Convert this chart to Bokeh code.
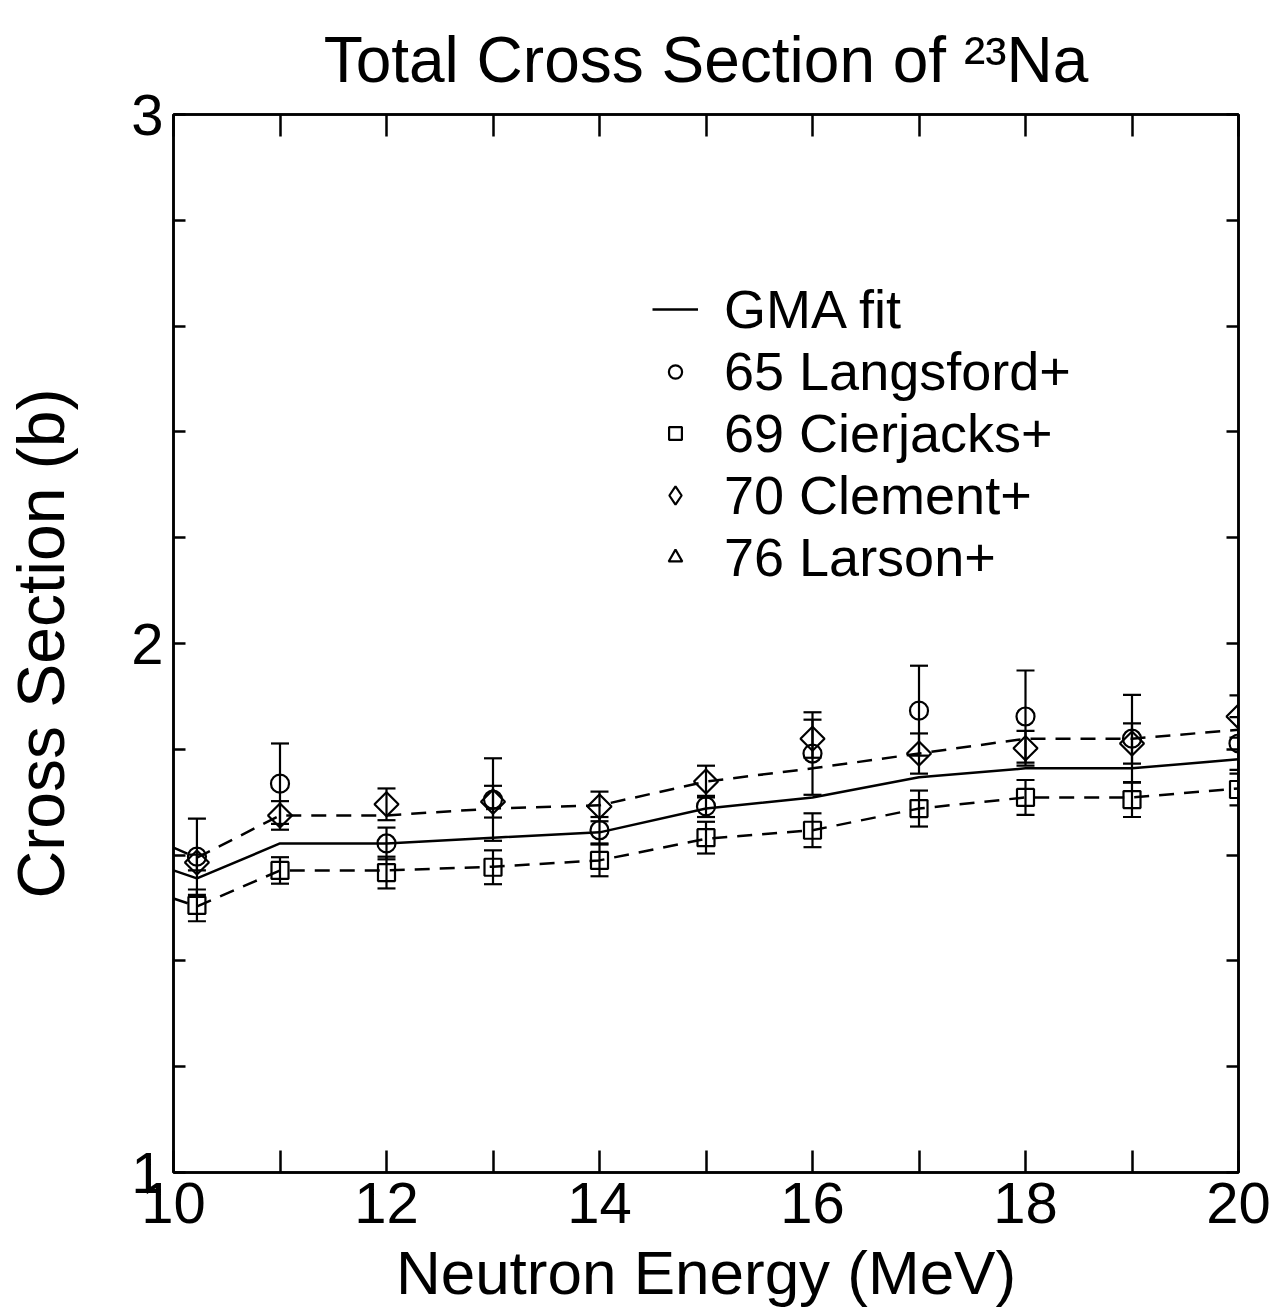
import numpy as np
from bokeh.plotting import figure
from bokeh.models import (ColumnDataSource, Whisker, TeeHead, FixedTicker, LinearAxis,
                          CustomJSTickFormatter, Legend, LegendItem, Range1d)
from bokeh.embed import file_html
from bokeh.resources import INLINE

# ---------------- data ----------------
fit_energy = [10.0, 10.22, 11, 12, 13, 14, 15, 16, 17, 18, 19, 20]
gma_fit = [1.571, 1.556, 1.622, 1.622, 1.633, 1.643, 1.688, 1.709, 1.747, 1.764, 1.764, 1.781]
fit_upper = [1.614, 1.595, 1.675, 1.675, 1.688, 1.694, 1.739, 1.764, 1.792, 1.820, 1.820, 1.837]
fit_lower = [1.518, 1.503, 1.571, 1.571, 1.578, 1.590, 1.631, 1.647, 1.688, 1.709, 1.709, 1.726]

energy = [10.22, 11, 12, 13, 14, 15, 16, 17, 18, 19, 20]
langsford = [1.597, 1.735, 1.622, 1.705, 1.647, 1.692, 1.792, 1.873, 1.862, 1.820, 1.811]
langsford_err = [0.072, 0.076, 0.030, 0.078, 0.025, 0.020, 0.078, 0.085, 0.087, 0.083, 0.050]
cierjacks = [1.505, 1.571, 1.567, 1.577, 1.590, 1.633, 1.647, 1.688, 1.709, 1.705, 1.724]
cierjacks_err = [0.030, 0.025, 0.030, 0.032, 0.030, 0.030, 0.032, 0.034, 0.033, 0.033, 0.030]
clement = [1.586, 1.675, 1.696, 1.701, 1.692, 1.739, 1.820, 1.792, 1.802, 1.811, 1.862]
clement_err = [0.015, 0.027, 0.030, 0.030, 0.028, 0.030, 0.036, 0.038, 0.033, 0.038, 0.040]
larson_energy = []
larson = []

legend_labels = ["GMA fit", "65 Langsford+", "69 Cierjacks+", "70 Clement+", "76 Larson+"]

x_ticks = [10, 11, 12, 13, 14, 15, 16, 17, 18, 19, 20]
y_ticks = [1.0, 1.2, 1.4, 1.6, 1.8, 2.0, 2.2, 2.4, 2.6, 2.8, 3.0]

FONT = "Liberation Sans"
BLACK = "black"

# ---------------- figure ----------------
p = figure(frame_width=1065, frame_height=1058,
           x_range=Range1d(10, 20), y_range=Range1d(1, 3),
           output_backend="svg", toolbar_location=None,
           min_border_left=173, min_border_right=36,
           min_border_top=114, min_border_bottom=142,
           background_fill_color="white", border_fill_color="white")

p.grid.visible = False
p.outline_line_color = BLACK
p.outline_line_width = 2.5

p.title.text = "Total Cross Section of \u00b2\u00b3Na"
p.title.align = "center"
p.title.text_font = FONT
p.title.text_font_size = "64px"
p.title.text_font_style = "normal"
p.title.text_color = BLACK
p.title.standoff = 38

x_fmt = CustomJSTickFormatter(code="var t = Math.round(tick); return (t % 2 == 0) ? t.toString() : '';")
y_fmt = CustomJSTickFormatter(code="return (Math.abs(tick - Math.round(tick)) < 1e-6) ? Math.round(tick).toString() : '';")
blank_fmt = CustomJSTickFormatter(code="return '';")

def style_axis(ax, tick_len):
    ax.axis_line_width = 2.5
    ax.axis_line_color = BLACK
    ax.major_tick_in = tick_len
    ax.major_tick_out = 0
    ax.major_tick_line_width = 2.5
    ax.major_tick_line_color = BLACK
    ax.minor_tick_line_color = None
    ax.major_label_text_font = FONT
    ax.major_label_text_color = BLACK
    ax.axis_label_text_font = FONT
    ax.axis_label_text_font_style = "normal"
    ax.axis_label_text_color = BLACK

xa = p.xaxis[0]
xa.ticker = FixedTicker(ticks=x_ticks)
xa.formatter = x_fmt
style_axis(xa, 22)
xa.major_label_text_font_size = "58px"
xa.major_label_standoff = 10
xa.axis_label = "Neutron Energy (MeV)"
xa.axis_label_text_font_size = "62px"
xa.axis_label_standoff = 12

ya = p.yaxis[0]
ya.ticker = FixedTicker(ticks=y_ticks)
ya.formatter = y_fmt
style_axis(ya, 12)
ya.major_label_text_font_size = "58px"
ya.major_label_standoff = 10
ya.axis_label = "Cross Section (b)"
ya.axis_label_text_font_size = "66px"
ya.axis_label_standoff = 50

top = LinearAxis(ticker=FixedTicker(ticks=x_ticks), formatter=blank_fmt)
style_axis(top, 22)
top.major_label_text_font_size = "0px"
top.major_label_standoff = 0
p.add_layout(top, "above")

right = LinearAxis(ticker=FixedTicker(ticks=y_ticks), formatter=blank_fmt)
style_axis(right, 12)
right.major_label_text_font_size = "0px"
right.major_label_standoff = 0
p.add_layout(right, "right")

# ---------------- lines ----------------
fit_src = ColumnDataSource(dict(x=fit_energy, y=gma_fit, up=fit_upper, lo=fit_lower))
r_fit = p.line("x", "y", source=fit_src, line_color=BLACK, line_width=2.5)
p.line("x", "up", source=fit_src, line_color=BLACK, line_width=2.5, line_dash="15 10")
p.line("x", "lo", source=fit_src, line_color=BLACK, line_width=2.5, line_dash="15 10")

# ---------------- data points ----------------
def add_series(xs, ys, errs, marker, size, angle=0.0):
    src = ColumnDataSource(dict(
        x=xs, y=ys,
        upper=[v + e for v, e in zip(ys, errs)],
        lower=[v - e for v, e in zip(ys, errs)]))
    if len(xs):
        p.add_layout(Whisker(source=src, base="x", upper="upper", lower="lower",
                             line_color=BLACK, line_width=2.2,
                             upper_head=TeeHead(size=18, line_width=2.2, line_color=BLACK),
                             lower_head=TeeHead(size=18, line_width=2.2, line_color=BLACK)))
    return p.scatter("x", "y", source=src, marker=marker, size=size, angle=angle,
                     fill_color=None, line_color=BLACK, line_width=2.2)

r_lang = add_series(energy, langsford, langsford_err, "circle", 18)
r_cier = add_series(energy, cierjacks, cierjacks_err, "square", 17)
r_clem = add_series(energy, clement, clement_err, "square", 17, angle=np.pi / 4)
r_lars = add_series(larson_energy, larson, [], "triangle", 16)

# legend-only glyph sources (no points drawn in the frame)
r_clem_key = p.scatter(x=[np.nan], y=[np.nan], marker="diamond", size=20,
                       fill_color=None, line_color=BLACK, line_width=2.2)
r_lars_key = p.scatter(x=[np.nan], y=[np.nan], marker="triangle", size=14,
                       fill_color=None, line_color=BLACK, line_width=2.2)

# ---------------- legend (one row per legend, for tight row spacing) ----------------
key_renderers = [r_fit, r_lang, r_cier, r_clem_key, r_lars_key]
key_heights = [34, 33, 32, 48, 34]
row_bottoms = [832, 770, 708, 646, 584]
for label, rend, gh, yb in zip(legend_labels, key_renderers, key_heights, row_bottoms):
    lg = Legend(items=[LegendItem(label=label, renderers=[rend])], location=(479, yb))
    lg.label_text_font = FONT
    lg.label_text_font_size = "54px"
    lg.label_text_color = BLACK
    lg.glyph_width = 46
    lg.glyph_height = gh
    lg.label_standoff = 26
    lg.spacing = 0
    lg.padding = 0
    lg.margin = 0
    lg.border_line_color = None
    lg.background_fill_alpha = 0
    p.add_layout(lg)

open("out.html", "w").write(file_html(p, INLINE))
